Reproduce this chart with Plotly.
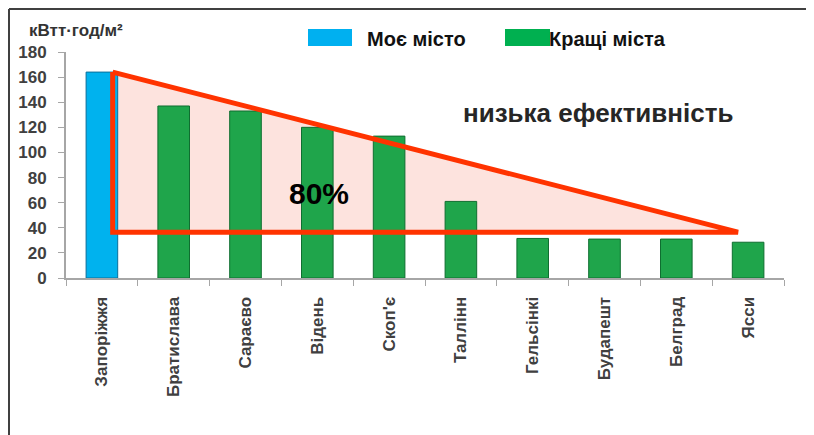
import plotly.graph_objects as go

cities = ["Запоріжжя", "Братислава", "Сараєво", "Відень", "Скоп'є",
          "Таллінн", "Гельсінкі", "Будапешт", "Белград", "Ясси"]
my_city_values = [164, None, None, None, None, None, None, None, None, None]
best_city_values = [None, 137, 133, 120, 113, 61, 31.5, 31, 31, 28.5]
y_ticks = [0, 20, 40, 60, 80, 100, 120, 140, 160, 180]

# annotation triangle ("80%" gap) in data units (x = category index)
tri_x = [0.15, 0.15, 8.86, 0.15]
tri_y = [164, 36.5, 36.5, 164]

unit_label = "кВтт·год/м²"
legend_labels = ["Моє місто", "Кращі міста"]
note_text = "низька ефективність"
pct_text = "80%"

x_idx = list(range(len(cities)))

OFF = 8  # page body margin
W, H = 814 - OFF, 435 - OFF
L, T = 66 - OFF, 52 - OFF
R = W - (784 - OFF)
B = H - (278 - OFF)
PW, PH = W - L - R, H - T - B


def px_x(px):  # window pixel -> paper x
    return (px - OFF - L) / PW


def px_y(py):  # window pixel -> paper y
    return (H - B - (py - OFF)) / PH


FONT = "Liberation Sans, Arial, sans-serif"

fig = go.Figure()
fig.add_trace(go.Bar(x=x_idx, y=my_city_values, width=0.44,
                     marker=dict(color="#00B2EE", line=dict(color="#0A6E9A", width=1)),
                     showlegend=False))
fig.add_trace(go.Bar(x=x_idx, y=best_city_values, width=0.44,
                     marker=dict(color="#1FA54B", line=dict(color="#0F6E30", width=1)),
                     showlegend=False))
# red outline on top of bars
fig.add_trace(go.Scatter(x=tri_x, y=tri_y, mode="lines",
                         line=dict(color="#FF3300", width=5),
                         showlegend=False, hoverinfo="skip"))

# pink fill behind bars
tri_path = "M " + " L ".join("%g,%g" % (a, b) for a, b in zip(tri_x, tri_y)) + " Z"
fig.add_shape(type="path", xref="x", yref="y", path=tri_path,
              fillcolor="#FDE3DE", line=dict(width=0), layer="below")

fig.update_layout(
    width=W, height=H,
    margin=dict(l=L, r=R, t=T, b=B, autoexpand=False),
    paper_bgcolor="white", plot_bgcolor="white",
    barmode="overlay",
    font=dict(family=FONT, color="#404040"),
    xaxis=dict(range=[-0.5, len(cities) - 0.5], tickmode="array",
               tickvals=x_idx, ticktext=cities,
               tickangle=-90, ticks="",
               tickfont=dict(family=FONT, size=17, color="#404040", weight="bold"),
               ticklabelstandoff=10,
               showline=True, linecolor="#A6A6A6", linewidth=2,
               showgrid=False, zeroline=False,
               minor=dict(tick0=-0.5, dtick=1, ticks="outside", ticklen=6,
                          tickcolor="#A6A6A6", tickwidth=1, showgrid=False)),
    yaxis=dict(range=[0, 180], tickmode="array", tickvals=y_ticks,
               ticktext=[str(v) for v in y_ticks],
               ticks="outside", ticklen=6, tickcolor="#A6A6A6",
               tickfont=dict(family=FONT, size=17, color="#404040", weight="bold"),
               ticklabelstandoff=8,
               showline=True, linecolor="#A6A6A6", linewidth=2,
               showgrid=False, zeroline=False),
)

# frame lines (top and left) of the original chart box
fig.add_shape(type="line", xref="paper", yref="paper",
              x0=px_x(9), x1=px_x(814), y0=px_y(9), y1=px_y(9),
              line=dict(color="#404040", width=2))
fig.add_shape(type="line", xref="paper", yref="paper",
              x0=px_x(9), x1=px_x(9), y0=px_y(9), y1=px_y(435),
              line=dict(color="#404040", width=2))

# custom legend
legend_specs = [("#00B0F0", 308, 352, 365), ("#00B050", 505, 550, 547)]
for (col, x0, x1, tx), lab in zip(legend_specs, legend_labels):
    fig.add_shape(type="rect", xref="paper", yref="paper",
                  x0=px_x(x0), x1=px_x(x1), y0=px_y(46), y1=px_y(29),
                  fillcolor=col, line=dict(width=0))
    fig.add_annotation(xref="paper", yref="paper", x=px_x(tx), y=px_y(39),
                       text=lab, showarrow=False, xanchor="left", yanchor="middle",
                       font=dict(family=FONT, size=20, color="#111111", weight="bold"))

fig.add_annotation(xref="paper", yref="paper", x=px_x(27), y=px_y(31),
                   text=unit_label, showarrow=False, xanchor="left", yanchor="middle",
                   font=dict(family=FONT, size=17, color="#333333", weight="bold"))
fig.add_annotation(xref="paper", yref="paper", x=px_x(598), y=px_y(113),
                   text=note_text, showarrow=False, xanchor="center", yanchor="middle",
                   font=dict(family=FONT, size=26, color="#262626", weight="bold"))
fig.add_annotation(xref="paper", yref="paper", x=px_x(319), y=px_y(193),
                   text=pct_text, showarrow=False, xanchor="center", yanchor="middle",
                   font=dict(family=FONT, size=30, color="#000000", weight="bold"))

fig.write_html("out.html")
